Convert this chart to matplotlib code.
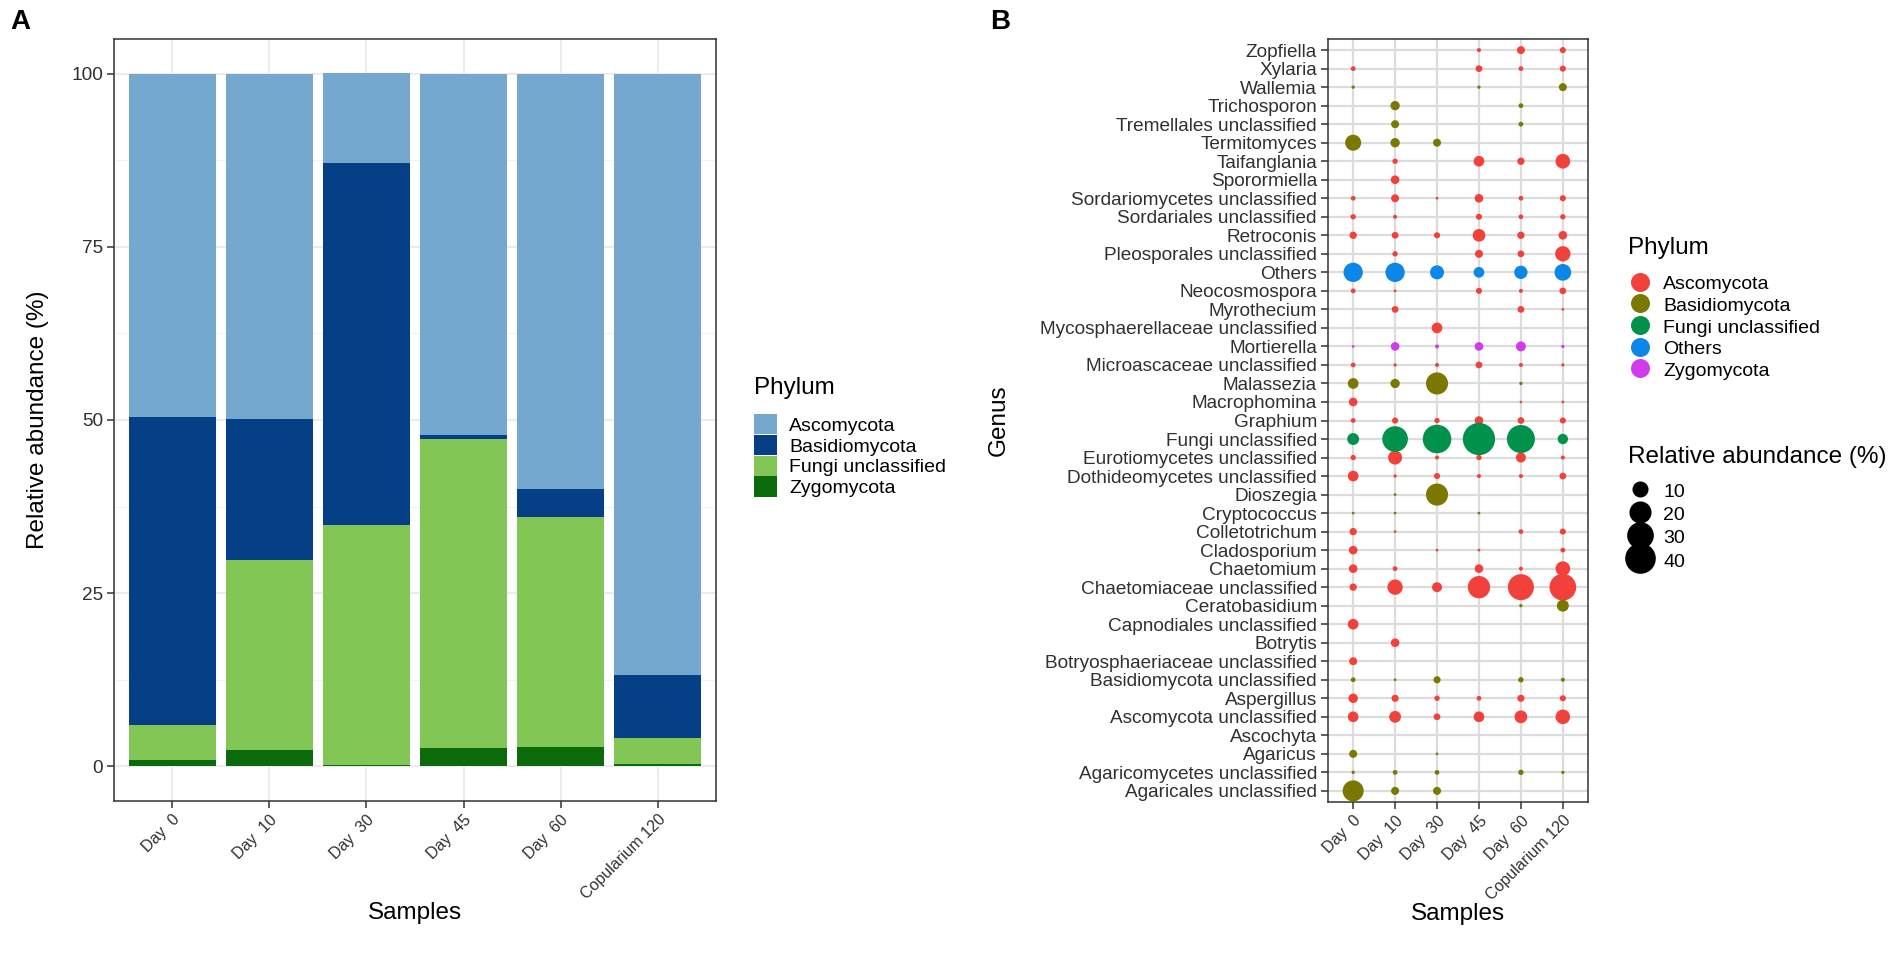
import numpy as np
import matplotlib.pyplot as plt
from matplotlib.patches import Patch
from matplotlib.lines import Line2D

plt.rcParams['font.family'] = ['Liberation Sans', 'DejaVu Sans']

W, H, DPI = 1904, 967, 100

samples = ["Day  0", "Day  10", "Day  30", "Day  45", "Day  60", "Copularium 120"]

# panel A: relative abundance per phylum (%)
zygomycota = [0.9, 2.3, 0.25, 2.6, 2.8, 0.35]
fungi_unclassified = [5.1, 27.5, 34.6, 44.7, 33.2, 3.7]
basidiomycota = [44.5, 20.4, 52.2, 0.55, 4.0, 9.1]
ascomycota = [49.5, 49.8, 13.0, 52.15, 60.0, 86.85]

# panel B: genus level, listed top to bottom
genera = [
    "Zopfiella", "Xylaria", "Wallemia", "Trichosporon", "Tremellales unclassified",
    "Termitomyces", "Taifanglania", "Sporormiella", "Sordariomycetes unclassified",
    "Sordariales unclassified", "Retroconis", "Pleosporales unclassified", "Others",
    "Neocosmospora", "Myrothecium", "Mycosphaerellaceae unclassified", "Mortierella",
    "Microascaceae unclassified", "Malassezia", "Macrophomina", "Graphium",
    "Fungi unclassified", "Eurotiomycetes unclassified", "Dothideomycetes unclassified",
    "Dioszegia", "Cryptococcus", "Colletotrichum", "Cladosporium", "Chaetomium",
    "Chaetomiaceae unclassified", "Ceratobasidium", "Capnodiales unclassified",
    "Botrytis", "Botryosphaeriaceae unclassified", "Basidiomycota unclassified",
    "Aspergillus", "Ascomycota unclassified", "Ascochyta", "Agaricus",
    "Agaricomycetes unclassified", "Agaricales unclassified",
]
genus_phylum = [
    "Ascomycota", "Ascomycota", "Basidiomycota", "Basidiomycota", "Basidiomycota",
    "Basidiomycota", "Ascomycota", "Ascomycota", "Ascomycota",
    "Ascomycota", "Ascomycota", "Ascomycota", "Others",
    "Ascomycota", "Ascomycota", "Ascomycota", "Zygomycota",
    "Ascomycota", "Basidiomycota", "Ascomycota", "Ascomycota",
    "Fungi unclassified", "Ascomycota", "Ascomycota",
    "Basidiomycota", "Basidiomycota", "Ascomycota", "Ascomycota", "Ascomycota",
    "Ascomycota", "Basidiomycota", "Ascomycota",
    "Ascomycota", "Ascomycota", "Basidiomycota",
    "Ascomycota", "Ascomycota", "Ascomycota", "Basidiomycota",
    "Basidiomycota", "Basidiomycota",
]
# columns: Day 0, Day 10, Day 30, Day 45, Day 60, Copularium 120
abundance = [
    [0, 0, 0, 0.3, 2.0, 1.0],
    [0.5, 0, 0, 1.3, 0.5, 1.0],
    [0.15, 0, 0, 0.15, 0, 2.0],
    [0, 2.9, 0, 0, 0.5, 0],
    [0, 2.0, 0, 0, 0.5, 0],
    [10.0, 2.9, 2.0, 0, 0, 0],
    [0, 0.7, 0, 4.0, 1.6, 8.2],
    [0, 2.4, 0, 0, 0, 0],
    [0.5, 2.0, 0.07, 2.4, 0.5, 1.0],
    [0.7, 0.3, 0, 1.0, 0.5, 0.7],
    [1.6, 1.3, 1.0, 5.9, 1.6, 2.4],
    [0, 0.7, 0, 2.0, 1.3, 9.0],
    [15.0, 15.0, 7.4, 4.0, 6.6, 10.9],
    [0.5, 0.07, 0, 1.0, 0.3, 1.3],
    [0, 1.3, 0, 0, 1.3, 0.07],
    [0, 0, 4.0, 0, 0, 0],
    [0.07, 2.4, 0.3, 2.4, 3.4, 0.15],
    [0.5, 0.15, 0.3, 1.3, 0.3, 0.15],
    [4.0, 2.9, 20.0, 0, 0.15, 0],
    [2.4, 0, 0, 0, 0.05, 0.07],
    [0.5, 1.0, 0.7, 2.4, 1.3, 1.0],
    [5.1, 27.5, 34.6, 44.7, 33.2, 3.7],
    [0.7, 7.4, 0.3, 0.7, 3.4, 0.3],
    [4.0, 0.15, 1.0, 0.3, 0.3, 1.3],
    [0, 0.07, 20.0, 0, 0, 0],
    [0.07, 0.07, 0, 0.07, 0, 0],
    [1.6, 0.07, 0, 0, 0.5, 1.0],
    [2.4, 0, 0.07, 0.07, 0, 0.5],
    [2.4, 0.5, 0, 2.4, 0.3, 8.2],
    [1.6, 9.0, 3.4, 20.5, 28.4, 30.0],
    [0, 0, 0, 0, 0.15, 5.2],
    [4.0, 0, 0, 0, 0, 0],
    [0, 2.4, 0, 0, 0, 0],
    [2.0, 0, 0, 0, 0, 0],
    [0.5, 0.07, 1.5, 0, 0.7, 0.3],
    [3.0, 1.5, 0.7, 0.5, 1.5, 1.0],
    [4.0, 5.0, 1.3, 4.0, 6.0, 8.0],
    [0, 0, 0, 0, 0, 0],
    [2.0, 0, 0.07, 0, 0, 0],
    [0.15, 0.5, 0.5, 0, 0.7, 0.15],
    [18.0, 2.0, 2.0, 0, 0, 0],
]
size_breaks = [10, 20, 30, 40]

bar_colors = {"Ascomycota": "#75A8CE", "Basidiomycota": "#053F85",
              "Fungi unclassified": "#82C655", "Zygomycota": "#0B6A0B"}
dot_colors = {"Ascomycota": "#F2413A", "Basidiomycota": "#7A7800",
              "Fungi unclassified": "#00924A", "Others": "#0A87E8",
              "Zygomycota": "#D23BEB"}

TXT = "#303030"
BORDER = "#333333"


def dot_area(v):
    d_px = 1.5 + 4.6 * np.sqrt(np.asarray(v, dtype=float))
    return (d_px * 72 / DPI) ** 2


def px_axes(fig, l, t, r, b):
    return fig.add_axes([l / W, 1 - b / H, (r - l) / W, (b - t) / H])


def style_axes(ax):
    for sp in ax.spines.values():
        sp.set_color(BORDER)
        sp.set_linewidth(1.1)
    ax.tick_params(axis="both", length=5, width=1.1, color=BORDER,
                   labelcolor=TXT, labelsize=13.7, pad=3)
    ax.tick_params(axis="x", labelsize=11.5)
    ax.set_axisbelow(True)


fig = plt.figure(figsize=(W / DPI, H / DPI), dpi=DPI)

# ---------- panel A ----------
axA = px_axes(fig, 114, 39, 716, 801)
x = np.arange(len(samples))
bottom = np.zeros(len(samples))
for name, vals in [("Zygomycota", zygomycota), ("Fungi unclassified", fungi_unclassified),
                   ("Basidiomycota", basidiomycota), ("Ascomycota", ascomycota)]:
    axA.bar(x, vals, 0.9, bottom=bottom, color=bar_colors[name], zorder=2)
    bottom += np.array(vals)
axA.set_xlim(-0.6, len(samples) - 0.4)
axA.set_ylim(-5, 105)
axA.set_yticks([0, 25, 50, 75, 100])
axA.set_yticks([12.5, 37.5, 62.5, 87.5], minor=True)
axA.tick_params(axis="y", which="minor", length=0)
axA.set_xticks(x)
axA.set_xticklabels(samples, rotation=45, ha="right", va="top", rotation_mode="anchor")
style_axes(axA)
axA.grid(True, which="major", color="#EBEBEB", linewidth=1.3)
axA.grid(True, axis="y", which="minor", color="#F2F2F2", linewidth=0.8)
axA.set_xlabel("Samples", fontsize=17.5)
axA.set_ylabel("Relative abundance (%)", fontsize=17.5)
axA.xaxis.set_label_coords(0.5, -0.132)
axA.yaxis.set_label_coords(-0.108, 0.5)

fig.text(754 / W, 1 - 388 / H, "Phylum", fontsize=17.5, ha="left", va="center")
handlesA = [Patch(facecolor=bar_colors[n], edgecolor="none", label=n)
            for n in ["Ascomycota", "Basidiomycota", "Fungi unclassified", "Zygomycota"]]
fig.legend(handles=handlesA, loc="upper left", bbox_to_anchor=(754 / W, 1 - 414 / H),
           frameon=False, fontsize=14, borderpad=0, borderaxespad=0,
           handlelength=1.2, handleheight=1.24, labelspacing=0.0, handletextpad=0.6)

# ---------- panel B ----------
axB = px_axes(fig, 1328, 39, 1588, 802)
n = len(genera)
for phylum, col in dot_colors.items():
    xs, ys, vs = [], [], []
    for i, g in enumerate(genera):
        if genus_phylum[i] != phylum:
            continue
        for j, v in enumerate(abundance[i]):
            if v > 0:
                xs.append(j)
                ys.append(n - 1 - i)
                vs.append(v)
    axB.scatter(xs, ys, s=dot_area(vs), color=col, edgecolors="none", zorder=3)
axB.set_xlim(-0.6, len(samples) - 0.4)
axB.set_ylim(-0.6, n - 0.4)
axB.set_xticks(x)
axB.set_xticklabels(samples, rotation=45, ha="right", va="top", rotation_mode="anchor")
axB.set_yticks(np.arange(n))
axB.set_yticklabels(genera[::-1])
style_axes(axB)
axB.grid(True, color="#DCDCDC", linewidth=1.6)
axB.set_xlabel("Samples", fontsize=17.5)
axB.set_ylabel("Genus", fontsize=17.5)
axB.xaxis.set_label_coords(0.5, -0.132)
axB.yaxis.set_label_coords((1010 - 1328) / 260, 0.5)

fig.text(1628 / W, 1 - 248 / H, "Phylum", fontsize=17.5, ha="left", va="center")
handlesB = [Line2D([], [], linestyle="none", marker="o", markersize=19 * 72 / DPI,
                   markerfacecolor=c, markeredgecolor="none", label=p)
            for p, c in dot_colors.items()]
fig.legend(handles=handlesB, loc="upper left", bbox_to_anchor=(1630 / W, 1 - 274 / H),
           frameon=False, fontsize=14, borderpad=0, borderaxespad=0,
           handlelength=1.0, handleheight=1.0, labelspacing=0.12, handletextpad=0.72)

fig.text(1628 / W, 1 - 457 / H, "Relative abundance (%)", fontsize=17.5,
         ha="left", va="center")
handlesS = [Line2D([], [], linestyle="none", marker="o",
                   markersize=np.sqrt(dot_area(b)), markerfacecolor="black",
                   markeredgecolor="none", label=str(b)) for b in size_breaks]
fig.legend(handles=handlesS, loc="upper left", bbox_to_anchor=(1630 / W, 1 - 480 / H),
           frameon=False, fontsize=14, borderpad=0, borderaxespad=0,
           handlelength=1.0, handleheight=1.3, labelspacing=0.1, handletextpad=0.72)

fig.text(20 / W, 1 - 22 / H, "A", fontsize=20, fontweight="bold", ha="center", va="center")
fig.text(1000 / W, 1 - 22 / H, "B", fontsize=20, fontweight="bold", ha="center", va="center")

fig.savefig("out.png", dpi=DPI)
